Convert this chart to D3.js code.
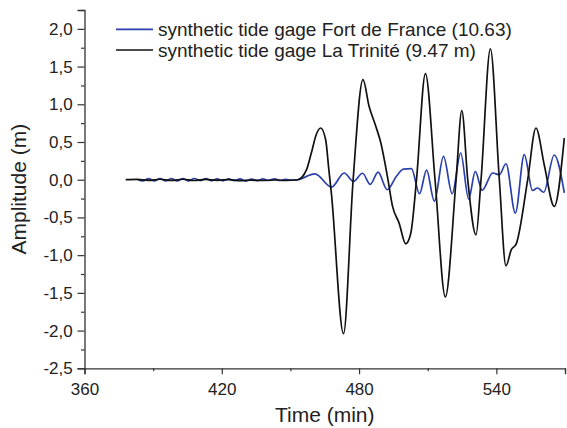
<!DOCTYPE html>
<html>
<head>
<meta charset="utf-8">
<script src="https://cdn.jsdelivr.net/npm/d3@7"></script>
<style>
  body { margin: 0; background: #fff; }
  svg { font-family: "Liberation Sans", Arial, sans-serif; }
</style>
</head>
<body>
<div id="chart"></div>
<script>
// Values
const blueTime = [383.3, 385.5, 388, 390.5, 393, 395.5, 398, 400.5, 403, 405.5, 408, 410.5, 413, 415.5, 418, 420.5, 423, 425.5, 428, 430.5, 433, 435.5, 438, 440.5, 443, 445.5, 448, 450.5, 453.2,
  460.7, 468.0, 473.5, 477.6, 481.5, 484.9, 488.3, 492.3, 496.4, 499.4, 502.9, 506.4, 509.5, 512.9, 516.9, 520.7, 524.4, 527.9, 530.8, 533.8, 538.4, 541.3, 544.2, 548.3, 552.2, 555.8, 558.0, 560.7, 565.3, 569.7];
const blueAmp = [0, -0.016, 0.014, -0.016, 0.016, -0.014, 0.016, -0.014, 0.016, -0.014, 0.016, -0.012, 0.014, -0.014, 0.012, -0.016, 0.012, -0.012, 0.01, -0.018, 0.008, -0.012, 0.01, -0.01, 0.012, -0.01, 0.006, -0.006, 0,
  0.077, -0.097, 0.089, -0.023, 0.086, -0.062, 0.10, -0.133, 0.05, 0.14, 0.146, -0.186, 0.126, -0.285, 0.31, -0.186, 0.354, -0.256, 0.11, -0.14, 0.089, 0.066, 0.212, -0.442, 0.332, -0.142, -0.11, -0.166, 0.328, -0.173];

const blackTime = [378, 383, 388, 393, 398, 403, 408, 413, 418, 423, 428, 433, 438, 443, 448, 453.2,
  457.0, 459.1, 461.3, 463.2, 465.4, 466.8, 467.9, 473.2, 477.4, 481.7, 484.4, 487.3, 489.5, 492.4, 494.6, 497.5, 500.4, 502.6, 505.1,
  509.0, 513.2, 517.7, 522.4, 524.9, 527.5, 531.1, 533.3, 537.4, 541.3, 544.2, 546.5, 548.7, 553.7, 557.3, 561.0, 565.3, 569.7];
const blackAmp = [0, 0.004, -0.008, 0.006, -0.008, 0.006, -0.01, 0.004, -0.008, 0.002, -0.012, -0.006, -0.01, -0.004, -0.01, 0,
  0.13, 0.35, 0.6, 0.686, 0.53, 0.13, -0.18, -2.04, 0, 1.327, 0.97, 0.71, 0.49, 0.04, -0.35, -0.575, -0.85, -0.71, 0,
  1.407, 0, -1.553, 0, 0.916, 0, -0.73, 0, 1.735, 0, -1.142, -0.93, -0.85, 0, 0.686, 0.186, -0.354, 0.553];

const xMajor = [360, 420, 480, 540];
const xMinor = [390, 450, 510, 570];
const yMajor = [-2.5, -2, -1.5, -1, -0.5, 0, 0.5, 1, 1.5, 2];
const yMinor = [-2.25, -1.75, -1.25, -0.75, -0.25, 0.25, 0.75, 1.25, 1.75, 2.25];
const seriesNames = ["synthetic tide gage Fort de France (10.63)", "synthetic tide gage La Trinité (9.47 m)"];
const seriesColors = ["#2a40ac", "#111111"];

const W = 567, H = 428;
const margin = { left: 84.5, right: 2, top: 10, bottom: 59.7 };

const svg = d3.select("#chart").append("svg")
  .attr("width", W).attr("height", H);

const x = d3.scaleLinear().domain([360, 570]).range([margin.left, W - margin.right]);
const y = d3.scaleLinear().domain([-2.5, 2.25]).range([H - margin.bottom, margin.top]);

svg.append("clipPath").attr("id", "plotclip")
  .append("rect")
  .attr("x", margin.left).attr("y", margin.top)
  .attr("width", x(570) - margin.left).attr("height", y(-2.5) - margin.top);

const line = d3.line()
  .x(d => x(d[0]))
  .y(d => y(d[1]))
  .curve(d3.curveMonotoneX);

const blueData = blueTime.map((t, i) => [t, blueAmp[i]]);
const blackData = blackTime.map((t, i) => [t, blackAmp[i]]);

const plot = svg.append("g").attr("clip-path", "url(#plotclip)");

plot.append("path")
  .datum(blueData)
  .attr("fill", "none")
  .attr("stroke", seriesColors[0])
  .attr("stroke-width", 1.7)
  .attr("d", line);

plot.append("path")
  .datum(blackData)
  .attr("fill", "none")
  .attr("stroke", seriesColors[1])
  .attr("stroke-width", 1.7)
  .attr("d", line);

// axes
const fmt = d => d.toFixed(1).replace(".", ",");

svg.append("g")
  .attr("transform", "translate(0," + y(-2.5) + ")")
  .call(d3.axisBottom(x).tickValues(xMajor).tickSize(6).tickPadding(9).tickFormat(d3.format("d")));
svg.append("g")
  .attr("transform", "translate(0," + y(-2.5) + ")")
  .call(d3.axisBottom(x).tickValues(xMinor).tickSize(3).tickFormat(""))
  .call(g => g.select(".domain").remove());

svg.append("g")
  .attr("transform", "translate(" + margin.left + ",0)")
  .call(d3.axisLeft(y).tickValues(yMajor).tickSize(7).tickPadding(4.8).tickFormat(fmt));
svg.append("g")
  .attr("transform", "translate(" + margin.left + ",0)")
  .call(d3.axisLeft(y).tickValues(yMinor).tickSize(3.5).tickFormat(""))
  .call(g => g.select(".domain").remove());

svg.selectAll(".domain").attr("stroke", "#333").attr("stroke-width", 1.3);
svg.selectAll(".tick line").attr("stroke", "#333").attr("stroke-width", 1.2);
svg.selectAll(".tick text")
  .attr("fill", "#222")
  .style("font-size", "17px")
  .style("font-family", "'Liberation Sans', Arial, sans-serif");

// axis titles
svg.append("text")
  .attr("x", (x(360) + x(570)) / 2)
  .attr("y", 421.5)
  .attr("text-anchor", "middle")
  .attr("fill", "#222")
  .style("font-size", "21px")
  .text("Time (min)");

svg.append("text")
  .attr("transform", "translate(26," + (y(-2.5) + y(2.25)) / 2 + ") rotate(-90)")
  .attr("text-anchor", "middle")
  .attr("fill", "#222")
  .style("font-size", "21px")
  .text("Amplitude (m)");

// legend
const legend = svg.append("g").attr("class", "legend");
const legendRows = legend.selectAll("g")
  .data(seriesNames)
  .enter()
  .append("g")
  .attr("transform", (d, i) => "translate(116," + (29.3 + i * 20.7) + ")");

legendRows.append("line")
  .attr("x1", 0).attr("x2", 37)
  .attr("y1", 0).attr("y2", 0)
  .attr("stroke", (d, i) => seriesColors[i])
  .attr("stroke-width", 1.7);

legendRows.append("text")
  .attr("x", 42)
  .attr("y", 0)
  .attr("dy", "0.35em")
  .attr("fill", "#222")
  .style("font-size", "19px")
  .text(d => d);
</script>
</body>
</html>
